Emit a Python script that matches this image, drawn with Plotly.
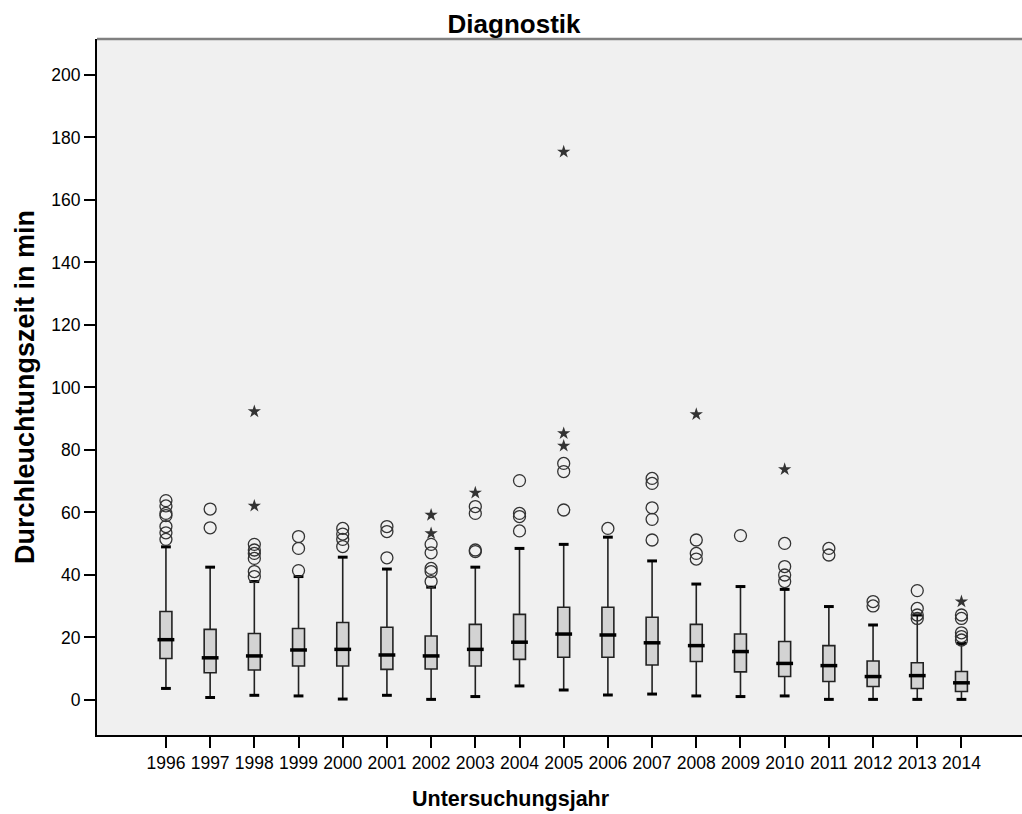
import plotly.graph_objects as go

years = [str(y) for y in range(1996, 2015)]
q1 = [13.3, 8.7, 9.6, 10.9, 10.9, 9.8, 9.9, 10.9, 13.0, 13.7, 13.7, 11.2, 12.3, 9.0, 7.5, 5.9, 4.3, 3.7, 2.7]
median = [19.3, 13.5, 14.1, 16.0, 16.2, 14.4, 14.1, 16.2, 18.5, 21.1, 20.8, 18.3, 17.4, 15.5, 11.7, 11.0, 7.5, 7.8, 5.5]
q3 = [28.3, 22.6, 21.3, 22.9, 24.8, 23.3, 20.5, 24.2, 27.4, 29.7, 29.7, 26.5, 24.2, 21.1, 18.7, 17.4, 12.5, 11.9, 9.1]
whisker_low = [3.7, 0.8, 1.5, 1.3, 0.3, 1.5, 0.2, 1.1, 4.5, 3.2, 1.6, 1.9, 1.3, 1.1, 1.3, 0.2, 0.2, 0.2, 0.2]
whisker_high = [49.0, 42.5, 37.9, 39.5, 45.7, 41.9, 36.1, 42.5, 48.5, 49.8, 52.1, 44.5, 37.1, 36.3, 35.4, 29.9, 24.0, 27.2, 18.1]

outliers = {
    "1996": [63.8, 62.1, 59.7, 59.0, 55.5, 53.5, 51.4],
    "1997": [61.1, 55.1],
    "1998": [49.8, 48.0, 46.9, 45.3, 41.1, 39.5],
    "1999": [52.3, 48.5, 41.4],
    "2000": [54.9, 53.1, 51.4, 49.1],
    "2001": [55.5, 53.9, 45.5],
    "2002": [49.8, 47.1, 42.1, 41.1, 37.9],
    "2003": [61.9, 59.7, 48.0, 47.5],
    "2004": [70.2, 59.7, 58.7, 54.1],
    "2005": [75.7, 73.1, 60.8],
    "2006": [54.9],
    "2007": [70.9, 69.3, 61.5, 57.8, 51.2],
    "2008": [51.2, 46.9, 45.1],
    "2009": [52.6],
    "2010": [50.1, 42.7, 40.0, 37.9],
    "2011": [48.5, 46.4],
    "2012": [31.5, 30.1],
    "2013": [35.0, 29.3, 27.2, 26.1],
    "2014": [27.2, 26.1, 21.5, 20.3, 19.2],
}
extremes = {
    "1998": [92.3, 62.1],
    "2002": [59.2, 53.3],
    "2003": [66.3],
    "2005": [175.4, 85.3, 81.3],
    "2008": [91.4],
    "2010": [73.8],
    "2014": [31.5],
}

ox = [y for y, vals in outliers.items() for _ in vals]
oy = [v for vals in outliers.values() for v in vals]
ex = [y for y, vals in extremes.items() for _ in vals]
ey = [v for vals in extremes.values() for v in vals]

fig = go.Figure()
fig.add_trace(go.Box(
    x=years, q1=q1, median=median, q3=q3,
    lowerfence=whisker_low, upperfence=whisker_high,
    boxpoints=False, width=0.27, whiskerwidth=0.5,
    fillcolor="#d3d3d3", line=dict(color="#222222", width=1.6),
    showlegend=False, hoverinfo="skip",
))
# thick median bars
fig.add_trace(go.Scatter(
    x=years, y=median, mode="markers",
    marker=dict(symbol="line-ew", size=12, line=dict(color="black", width=3.5)),
    showlegend=False, hoverinfo="skip",
))
# whisker caps
fig.add_trace(go.Scatter(
    x=years + years, y=whisker_low + whisker_high, mode="markers",
    marker=dict(symbol="line-ew", size=7, line=dict(color="black", width=3)),
    showlegend=False, hoverinfo="skip",
))
fig.add_trace(go.Scatter(
    x=ox, y=oy, mode="markers",
    marker=dict(symbol="circle-open", size=12, color="#333333", line=dict(width=1.3)),
    showlegend=False, hoverinfo="skip",
))
fig.add_trace(go.Scatter(
    x=ex, y=ey, mode="markers",
    marker=dict(symbol="star", size=10, color="#333333", line=dict(width=0)),
    showlegend=False, hoverinfo="skip",
))

font = "Liberation Sans, Arial, sans-serif"
fig.update_layout(
    width=1022, height=814,
    margin=dict(l=97, r=0, t=39, b=79),
    paper_bgcolor="white", plot_bgcolor="#f0f0f0",
    font=dict(family=font, color="black"),
    title=dict(text="<b>Diagnostik</b>", font=dict(size=26, family=font, color="black"),
               xref="container", x=0.503, xanchor="center",
               yref="container", y=1 - 24 / 814, yanchor="middle"),
    xaxis=dict(type="category", categoryorder="array", categoryarray=years,
               range=[-1.56, 19.37], showgrid=False, zeroline=False,
               showline=True, linecolor="black", linewidth=2,
               ticks="outside", ticklen=11, tickwidth=2, tickcolor="black",
               tickfont=dict(size=17.5, family=font, color="black")),
    yaxis=dict(range=[-11.2, 211.5], tickvals=list(range(0, 201, 20)),
               showgrid=False, zeroline=False,
               showline=True, linecolor="black", linewidth=2,
               ticks="outside", ticklen=11, tickwidth=2, tickcolor="black",
               tickfont=dict(size=17.5, family=font, color="black")),
    shapes=[dict(type="line", xref="paper", yref="paper", x0=0, x1=1, y0=1, y1=1,
                 line=dict(color="#808080", width=2.5))],
    annotations=[
        dict(text="<b>Untersuchungsjahr</b>", xref="paper", yref="paper",
             x=(511 - 97) / 925, y=-(799 - 735) / 696, xanchor="center", yanchor="middle",
             showarrow=False, font=dict(size=21.5, family=font, color="black")),
        dict(text="<b>Durchleuchtungszeit in min</b>", xref="paper", yref="paper",
             x=-(97 - 25) / 925, y=0.5, xanchor="center", yanchor="middle", textangle=-90,
             showarrow=False, font=dict(size=27, family=font, color="black")),
    ],
)

fig.write_html("out.html")
